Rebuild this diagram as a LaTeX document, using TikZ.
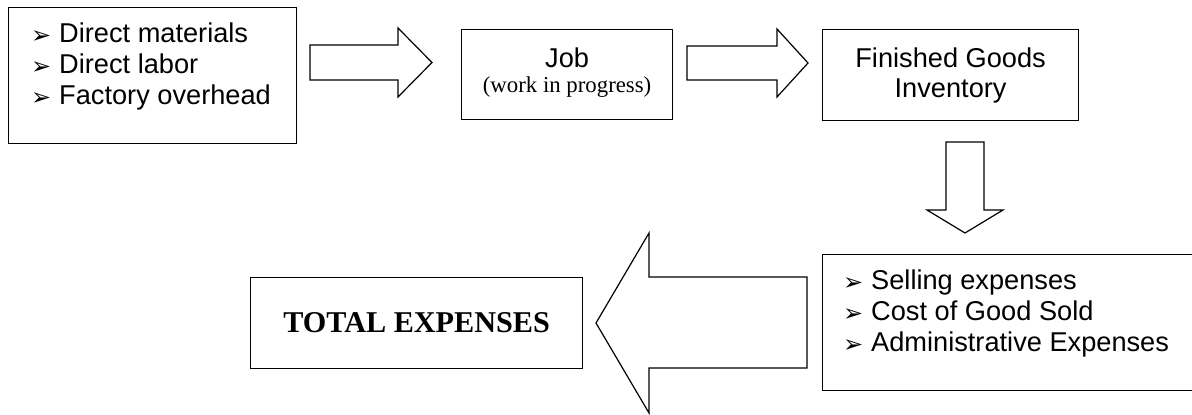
\documentclass[tikz,border=0pt]{standalone}
\usepackage{fontspec}
\setmainfont{Liberation Sans}
\newfontfamily\timesfont{Liberation Serif}
\newfontfamily\arrowfont{DejaVu Sans}
\usetikzlibrary{positioning, calc}
\tikzstyle{box} = [
  rectangle,
  anchor=north west,
  draw=black,
  line width=1.2pt,
  inner sep=0pt,
  align=center,
  font=\fontsize{27.2}{30}\selectfont
]
\tikzstyle{list} = [
  anchor=north west,
  align=left,
  inner sep=0pt,
  font=\fontsize{27.2}{31}\selectfont
]
\tikzstyle{blockarrow} = [draw=black, line width=1.2pt, line join=miter, fill=white]
\newcommand{\pointer}{\makebox[28pt][l]{\smash{\raisebox{-1pt}{\arrowfont\fontsize{24}{24}\selectfont ➢}}}}

\begin{document}
\begin{tikzpicture}[x=1pt, y=-1pt]
    \useasboundingbox (0,0) rectangle (1192,415);

    % boxes
    \node (inputs) [box, minimum width=288pt, minimum height=136pt] at (8,7) {};
    \node (job) [box, minimum width=211pt, minimum height=90pt, font=\fontsize{27.2}{25}\selectfont] at (461,29)
      {Job\\{\timesfont\fontsize{22.8}{25}\selectfont (work in progress)}\\[-17pt]\mbox{}};
    \node (finished-goods) [box, minimum width=256pt, minimum height=91pt] at (822,29) {Finished Goods\\Inventory};
    \node (expenses) [box, minimum width=373pt, minimum height=136pt] at (822,254) {};
    \node (total-expenses) [box, minimum width=332pt, minimum height=91pt, font=\timesfont\bfseries\fontsize{30.2}{30}\selectfont] at (250,277) {TOTAL EXPENSES};

    % bullet lists
    \node (inputs-list) [list] at (31,23)
      {\pointer Direct materials\\ \pointer Direct labor\\ \pointer Factory overhead};
    \node (expenses-list) [list] at (843,270)
      {\pointer Selling expenses\\ \pointer Cost of Good Sold\\ \pointer Administrative Expenses};

    % block arrows
    \draw [blockarrow] (310,45) -- (398,45) -- (398,28) -- (432,62.5) -- (398,97) -- (398,80) -- (310,80) -- cycle;
    \draw [blockarrow] (687,46) -- (777,46) -- (777,29) -- (808,63) -- (777,97) -- (777,80) -- (687,80) -- cycle;
    \draw [blockarrow] (946,142) -- (984,142) -- (984,210) -- (1003,210) -- (965,233) -- (927,210) -- (946,210) -- cycle;
    \draw [blockarrow] (807,277) -- (807,368) -- (649,368) -- (649,413) -- (596,323) -- (649,233) -- (649,277) -- cycle;
\end{tikzpicture}
\end{document}
